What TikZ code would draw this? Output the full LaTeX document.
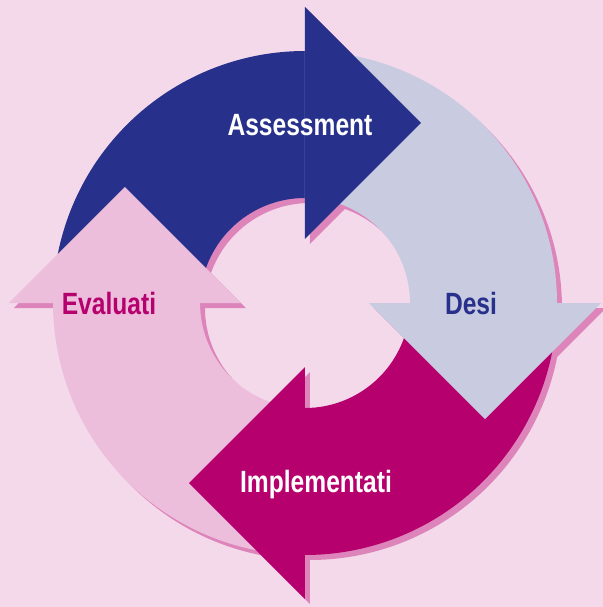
\documentclass[tikz,border=0pt]{standalone}
\usepackage{fontspec}
\newfontfamily\narrowfont[FakeStretch=0.8]{Liberation Sans}
\definecolor{bgpink}{HTML}{F4D9EA}
\definecolor{shadowpink}{HTML}{DD85BB}
\definecolor{assessblue}{HTML}{27318B}
\definecolor{desilav}{HTML}{C9CBE1}
\definecolor{implmag}{HTML}{B5006E}
\definecolor{evalpink}{HTML}{ECBEDB}
\tikzset{cyclelabel/.style={anchor=base,inner sep=0pt,font=\narrowfont\bfseries\fontsize{17.5}{20}\selectfont}}

\begin{document}
\begin{tikzpicture}[scale=0.02]
 \fill[bgpink] (-305,-304) rectangle (298,303);
 \useasboundingbox (-305,-304) rectangle (298,303);
 % shadow under the whole ring
 \foreach \a in {90,0,-90,180}
  \fill[shadowpink,shift={(5,-5)},rotate=\a-90] (180:252) arc (180:88:252)--(88:105) arc (88:180:105)--cycle
   (0,64)--(0,296)--(116,180)--cycle;
 % bodies, then heads on top
 \foreach \a/\c in {90/assessblue,0/desilav,-90/implmag,180/evalpink}
  \fill[\c,rotate=\a-90] (180:252) arc (180:88:252)--(88:105) arc (88:180:105)--cycle;
 \foreach \a/\c in {90/assessblue,0/desilav,-90/implmag,180/evalpink}
  \fill[\c,rotate=\a-90] (0,64)--(0,296)--(116,180)--cycle;
 \node[cyclelabel,white] (assess) at (-5,167) {Assessment};
 \node[cyclelabel,assessblue] (desi) at (166,-11) {Desi};
 \node[cyclelabel,white] (implem) at (11,-189) {Implementati};
 \node[cyclelabel,implmag] (evalu) at (-196,-11) {Evaluati};
\end{tikzpicture}
\end{document}
